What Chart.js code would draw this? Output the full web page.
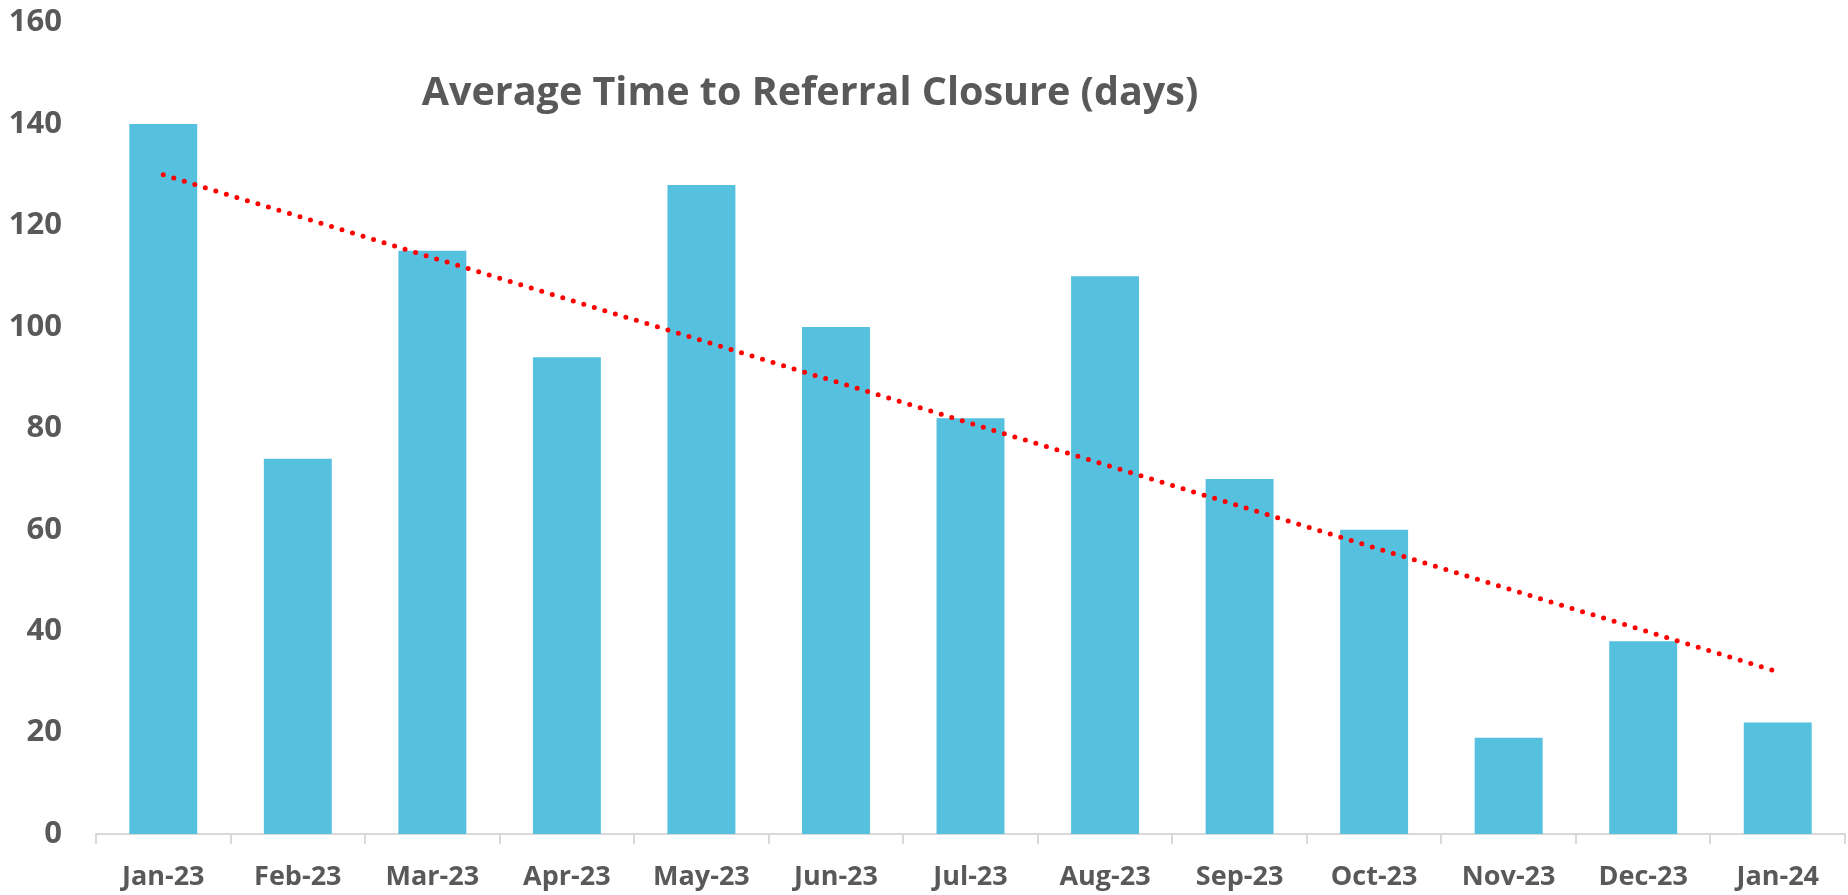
<!DOCTYPE html>
<html>
<head>
<meta charset="utf-8">
<script src="https://cdn.jsdelivr.net/npm/chart.js@4.4.1/dist/chart.umd.min.js"></script>
<style>
    html, body { margin: 0; padding: 0; background: #ffffff; }
    #wrap { width: 1848px; height: 895px; position: relative; }
</style>
</head>
<body>
<div id="wrap"><canvas id="closureChart"></canvas></div>
<script>
const months = ["Jan-23", "Feb-23", "Mar-23", "Apr-23", "May-23", "Jun-23", "Jul-23",
    "Aug-23", "Sep-23", "Oct-23", "Nov-23", "Dec-23", "Jan-24"];
const avgDays = [140, 74, 115, 94, 128, 100, 82, 110, 70, 60, 19, 38, 22];
// trendline: only its two end points
const trendDays = [130, null, null, null, null, null, null, null, null, null, null, null, 32];
const yTicks = [0, 20, 40, 60, 80, 100, 120, 140, 160];
const chartTitle = "Average Time to Referral Closure (days)";

const textGrey = "#595959";
const fontFamily = "'Open Sans', 'Noto Sans', sans-serif";

// title sits inside the plot, left of centre
const floatingTitle = {
    id: "floatingTitle",
    afterDraw(chart) {
        const ctx = chart.ctx;
        ctx.save();
        ctx.font = "bold 39.5px " + fontFamily;
        ctx.fillStyle = textGrey;
        ctx.textAlign = "center";
        ctx.textBaseline = "alphabetic";
        ctx.fillText(chartTitle, 810, 105);
        ctx.restore();
    },
};

new Chart(document.getElementById("closureChart"), {
    type: "bar",
    data: {
        labels: months,
        datasets: [
            {
                type: "line",
                label: "Trend",
                data: trendDays,
                spanGaps: true,
                borderColor: "#ff0000",
                borderWidth: 5,
                borderDash: [0, 11],
                borderCapStyle: "round",
                pointRadius: 0,
                tension: 0,
                order: 0,
            },
            {
                label: "Average days",
                data: avgDays,
                backgroundColor: "#56c0df",
                barPercentage: 0.505,
                categoryPercentage: 1,
                order: 1,
            },
        ],
    },
    options: {
        responsive: true,
        maintainAspectRatio: false,
        animation: false,
        layout: { padding: { left: 0, right: 3, top: 0, bottom: 0 } },
        plugins: {
            legend: { display: false },
            tooltip: { enabled: false },
            title: { display: false },
        },
        scales: {
            x: {
                afterFit: (scale) => {
                    scale.height = 61;
                },
                grid: {
                    display: true,
                    drawOnChartArea: false,
                    drawTicks: true,
                    tickLength: 10,
                    color: "#d9d9d9",
                    lineWidth: 2,
                },
                border: { display: true, color: "#d9d9d9", width: 2 },
                ticks: {
                    color: textGrey,
                    padding: 17,
                    maxRotation: 0,
                    autoSkip: false,
                    font: { family: fontFamily, size: 27, weight: "bold" },
                },
            },
            y: {
                min: 0,
                max: 160,
                afterBuildTicks: (scale) => {
                    scale.ticks = yTicks.map((v) => ({ value: v }));
                },
                afterFit: (scale) => {
                    scale.width = 96;
                },
                grid: { display: false, drawTicks: true, tickLength: 30 },
                border: { display: false },
                ticks: {
                    color: textGrey,
                    padding: 4,
                    font: { family: fontFamily, size: 31, weight: "bold" },
                },
            },
        },
    },
    plugins: [floatingTitle],
});
</script>
</body>
</html>
